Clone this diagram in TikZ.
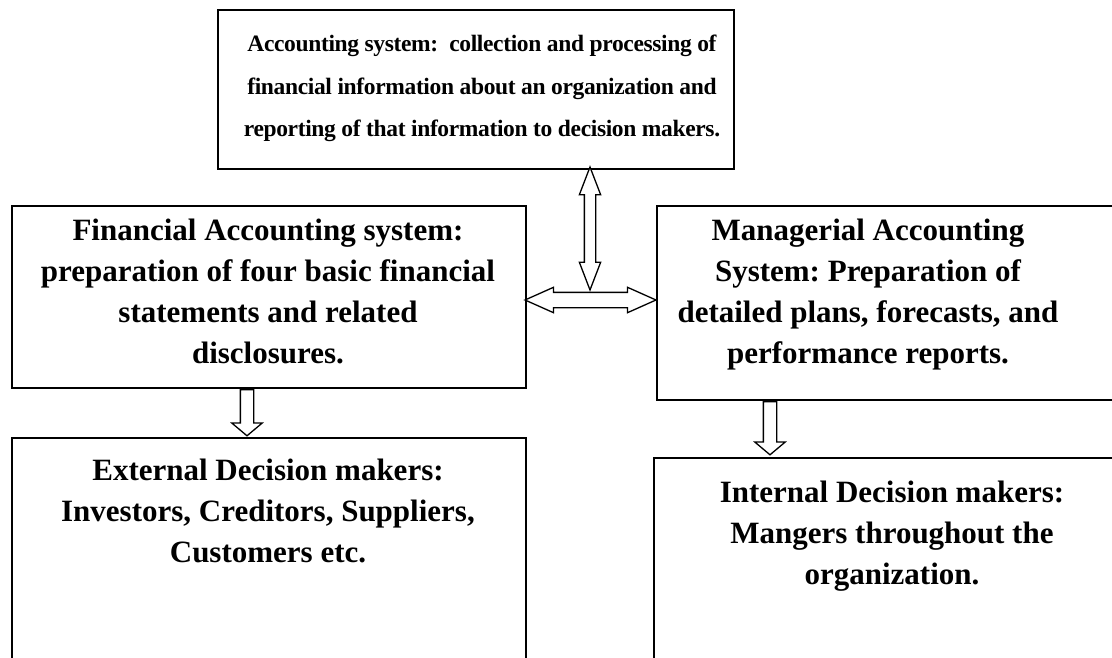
\documentclass[tikz,border=0pt]{standalone}
\usepackage{fontspec}
\setmainfont{Liberation Serif}
\usetikzlibrary{shapes.arrows}

\begin{document}
\frenchspacing
\begin{tikzpicture}[x=1pt,y=-1pt,
    box/.style={draw, line width=2pt, anchor=north west, inner sep=0pt},
    bigtext/.style={align=center, font=\fontsize{31}{41}\selectfont\bfseries},
    toptext/.style={align=center,
      font=\fontsize{23.5}{42.5}\selectfont\bfseries\addfontfeature{LetterSpace=-1.5}},
    twoway/.style={double arrow, draw, fill=white, line width=1.3pt, inner sep=#1},
    oneway/.style={single arrow, draw, fill=white, line width=1.3pt, inner sep=6pt,
      single arrow head extend=8.5pt, single arrow tip angle=100, rotate=-90}]
  \useasboundingbox (0,0) rectangle (1112,658);
  \clip (0,0) rectangle (1112,658);

  % boxes
  \node[box, minimum width=516pt, minimum height=159pt] (acct) at (217,9) {};
  \node[box, minimum width=514pt, minimum height=182pt] (fin) at (11,205) {};
  \node[box, minimum width=480pt, minimum height=194pt] (mgr) at (656,205) {};
  \node[box, minimum width=514pt, minimum height=270pt] (ext) at (11,437) {};
  \node[box, minimum width=480pt, minimum height=250pt] (int) at (653,457) {};

  % texts
  \node[toptext] (acctlbl) at (482,88.5) {Accounting system:~ collection and processing of\\
    financial information about an organization and\\
    reporting of that information to decision makers.};
  \node[bigtext] (finlbl) at (268,291) {Financial Accounting system:\\
    preparation of four basic financial\\ statements and related\\ disclosures.};
  \node[bigtext] (mgrlbl) at (868,295) {Managerial Accounting\\ System: Preparation of\\
    detailed plans, forecasts, and\\ performance reports.};
  \node[bigtext] (extlbl) at (268,511) {External Decision makers:\\
    Investors, Creditors, Suppliers,\\ Customers etc.};
  \node[bigtext] (intlbl) at (892,536.5) {Internal Decision makers:\\
    Mangers throughout the\\ organization.};

  % block arrows
  \node[twoway=5pt, rotate=90, minimum height=123pt, double arrow head extend=5pt,
    double arrow tip angle=42] (updown) at (590,228.5) {};
  \node[twoway=7pt, minimum height=131pt, double arrow head extend=5pt,
    double arrow tip angle=48] (across) at (590.5,300) {};
  \node[oneway, minimum height=46pt] (finext) at (247,410) {};
  \node[oneway, minimum height=53pt] (mgrint) at (770,425.5) {};
\end{tikzpicture}
\end{document}
